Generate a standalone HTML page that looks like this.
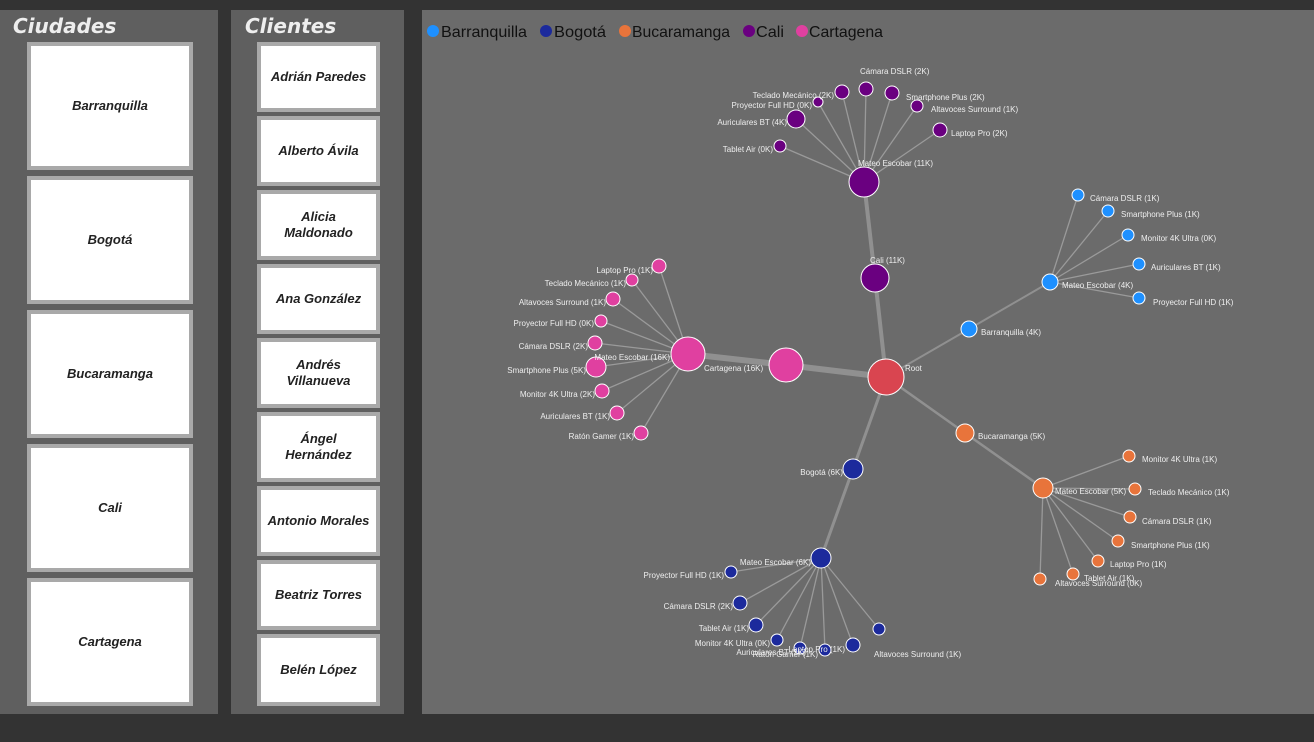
<!DOCTYPE html>
<html><head><meta charset="utf-8"><style>
body{margin:0;width:1314px;height:742px;background:#333;position:relative;overflow:hidden;font-family:"Liberation Sans",sans-serif}
.p{position:absolute;top:10px;height:704px}
.t{position:absolute;top:14px;font-size:20px;font-weight:bold;font-style:italic;color:#eee;font-family:"DejaVu Sans",sans-serif}
.c{position:absolute;background:#fff;border:4px solid #a9a9a9;box-sizing:border-box;display:flex;align-items:center;justify-content:center;text-align:center;font-size:13px;font-weight:bold;font-style:italic;color:#222;line-height:16px}
</style></head><body>
<div class="p" style="left:0;width:218px;background:#5f5f5f"></div>
<div class="p" style="left:231px;width:173px;background:#5f5f5f"></div>
<div class="p" style="left:422px;width:892px;background:#6b6b6b"></div>
<div class="t" style="left:13px">Ciudades</div>
<div class="t" style="left:245px">Clientes</div>
<div class="c" style="left:27px;top:42px;width:166px;height:128px">Barranquilla</div>
<div class="c" style="left:27px;top:176px;width:166px;height:128px">Bogotá</div>
<div class="c" style="left:27px;top:310px;width:166px;height:128px">Bucaramanga</div>
<div class="c" style="left:27px;top:444px;width:166px;height:128px">Cali</div>
<div class="c" style="left:27px;top:578px;width:166px;height:128px">Cartagena</div>
<div class="c" style="left:257px;top:42px;width:123px;height:70px">Adrián Paredes</div>
<div class="c" style="left:257px;top:116px;width:123px;height:70px">Alberto Ávila</div>
<div class="c" style="left:257px;top:190px;width:123px;height:70px">Alicia<br>Maldonado</div>
<div class="c" style="left:257px;top:264px;width:123px;height:70px">Ana González</div>
<div class="c" style="left:257px;top:338px;width:123px;height:70px">Andrés<br>Villanueva</div>
<div class="c" style="left:257px;top:412px;width:123px;height:70px">Ángel<br>Hernández</div>
<div class="c" style="left:257px;top:486px;width:123px;height:70px">Antonio Morales</div>
<div class="c" style="left:257px;top:560px;width:123px;height:70px">Beatriz Torres</div>
<div class="c" style="left:257px;top:634px;width:123px;height:72px">Belén López</div>
<svg width="1314" height="742" style="position:absolute;left:0;top:0" font-family="Liberation Sans, sans-serif">
<g font-size="16" fill="#111">
<circle cx="433" cy="31" r="6" fill="#1e90ff"/><text x="441" y="37" textLength="86" lengthAdjust="spacingAndGlyphs">Barranquilla</text>
<circle cx="546" cy="31" r="6" fill="#1c2a9c"/><text x="554" y="37" textLength="52" lengthAdjust="spacingAndGlyphs">Bogotá</text>
<circle cx="625" cy="31" r="6" fill="#e8743b"/><text x="632" y="37" textLength="98" lengthAdjust="spacingAndGlyphs">Bucaramanga</text>
<circle cx="749" cy="31" r="6" fill="#6a0080"/><text x="756" y="37" textLength="28" lengthAdjust="spacingAndGlyphs">Cali</text>
<circle cx="802" cy="31" r="6" fill="#e040a0"/><text x="809" y="37" textLength="74" lengthAdjust="spacingAndGlyphs">Cartagena</text>
</g>
<g stroke="#9a9a9a" stroke-opacity="0.8">
<line x1="886" y1="377" x2="875" y2="278" stroke-width="4"/>
<line x1="875" y1="278" x2="864" y2="182" stroke-width="4"/>
<line x1="886" y1="377" x2="786" y2="365" stroke-width="6"/>
<line x1="786" y1="365" x2="688" y2="354" stroke-width="6"/>
<line x1="886" y1="377" x2="969" y2="329" stroke-width="2"/>
<line x1="969" y1="329" x2="1050" y2="282" stroke-width="2"/>
<line x1="886" y1="377" x2="965" y2="433" stroke-width="2.5"/>
<line x1="965" y1="433" x2="1043" y2="488" stroke-width="2.5"/>
<line x1="886" y1="377" x2="853" y2="469" stroke-width="3"/>
<line x1="853" y1="469" x2="821" y2="558" stroke-width="3"/>
</g>
<g stroke="#9a9a9a" stroke-width="1.3">
<path d="M864 182L780 146M864 182L796 119M864 182L818 102M864 182L842 92M864 182L866 89M864 182L892 93M864 182L917 106M864 182L940 130"/>
<path d="M1050 282L1078 195M1050 282L1108 211M1050 282L1128 235M1050 282L1139 264M1050 282L1139 298"/>
<path d="M1043 488L1129 456M1043 488L1135 489M1043 488L1130 517M1043 488L1118 541M1043 488L1098 561M1043 488L1073 574M1043 488L1040 579"/>
<path d="M821 558L731 572M821 558L740 603M821 558L756 625M821 558L777 640M821 558L800 648M821 558L825 650M821 558L853 645M821 558L879 629"/>
<path d="M688 354L659 266M688 354L632 280M688 354L613 299M688 354L601 321M688 354L595 343M688 354L596 367M688 354L602 391M688 354L617 413M688 354L641 433"/>
</g>
<g stroke="#fff" stroke-width="1">
<circle cx="886" cy="377" r="18" fill="#d94550"/>
<g fill="#6a0080"><circle cx="875" cy="278" r="14"/><circle cx="864" cy="182" r="15"/>
<circle cx="780" cy="146" r="6"/><circle cx="796" cy="119" r="9"/><circle cx="818" cy="102" r="5"/><circle cx="842" cy="92" r="7"/><circle cx="866" cy="89" r="7"/><circle cx="892" cy="93" r="7"/><circle cx="917" cy="106" r="6"/><circle cx="940" cy="130" r="7"/></g>
<g fill="#1e90ff"><circle cx="969" cy="329" r="8"/><circle cx="1050" cy="282" r="8"/>
<circle cx="1078" cy="195" r="6"/><circle cx="1108" cy="211" r="6"/><circle cx="1128" cy="235" r="6"/><circle cx="1139" cy="264" r="6"/><circle cx="1139" cy="298" r="6"/></g>
<g fill="#e8743b"><circle cx="965" cy="433" r="9"/><circle cx="1043" cy="488" r="10"/>
<circle cx="1129" cy="456" r="6"/><circle cx="1135" cy="489" r="6"/><circle cx="1130" cy="517" r="6"/><circle cx="1118" cy="541" r="6"/><circle cx="1098" cy="561" r="6"/><circle cx="1073" cy="574" r="6"/><circle cx="1040" cy="579" r="6"/></g>
<g fill="#1c2a9c"><circle cx="853" cy="469" r="10"/><circle cx="821" cy="558" r="10"/>
<circle cx="731" cy="572" r="6"/><circle cx="740" cy="603" r="7"/><circle cx="756" cy="625" r="7"/><circle cx="777" cy="640" r="6"/><circle cx="800" cy="648" r="6"/><circle cx="825" cy="650" r="6"/><circle cx="853" cy="645" r="7"/><circle cx="879" cy="629" r="6"/></g>
<g fill="#e040a0"><circle cx="786" cy="365" r="17"/><circle cx="688" cy="354" r="17"/>
<circle cx="659" cy="266" r="7"/><circle cx="632" cy="280" r="6"/><circle cx="613" cy="299" r="7"/><circle cx="601" cy="321" r="6"/><circle cx="595" cy="343" r="7"/><circle cx="596" cy="367" r="10"/><circle cx="602" cy="391" r="7"/><circle cx="617" cy="413" r="7"/><circle cx="641" cy="433" r="7"/></g>
</g>
<g font-size="8" fill="#eee">
<text x="905" y="371">Root</text>
<text x="870" y="263">Cali (11K)</text>
<text x="858" y="166">Mateo Escobar (11K)</text>
<g text-anchor="end"><text x="773" y="152">Tablet Air (0K)</text><text x="787" y="125">Auriculares BT (4K)</text><text x="812" y="108">Proyector Full HD (0K)</text><text x="834" y="98">Teclado Mecánico (2K)</text></g>
<text x="860" y="74">Cámara DSLR (2K)</text><text x="906" y="100">Smartphone Plus (2K)</text><text x="931" y="112">Altavoces Surround (1K)</text><text x="951" y="136">Laptop Pro (2K)</text>
<text x="981" y="335">Barranquilla (4K)</text><text x="1062" y="288">Mateo Escobar (4K)</text>
<text x="1090" y="201">Cámara DSLR (1K)</text><text x="1121" y="217">Smartphone Plus (1K)</text><text x="1141" y="241">Monitor 4K Ultra (0K)</text><text x="1151" y="270">Auriculares BT (1K)</text><text x="1153" y="305">Proyector Full HD (1K)</text>
<text x="978" y="439">Bucaramanga (5K)</text><text x="1055" y="494">Mateo Escobar (5K)</text>
<text x="1142" y="462">Monitor 4K Ultra (1K)</text><text x="1148" y="495">Teclado Mecánico (1K)</text><text x="1142" y="524">Cámara DSLR (1K)</text><text x="1131" y="548">Smartphone Plus (1K)</text><text x="1110" y="567">Laptop Pro (1K)</text><text x="1084" y="581">Tablet Air (1K)</text><text x="1055" y="586">Altavoces Surround (0K)</text>
<g text-anchor="end"><text x="843" y="475">Bogotá (6K)</text><text x="811" y="565">Mateo Escobar (6K)</text>
<text x="724" y="578">Proyector Full HD (1K)</text><text x="733" y="609">Cámara DSLR (2K)</text><text x="749" y="631">Tablet Air (1K)</text><text x="770" y="646">Monitor 4K Ultra (0K)</text><text x="818" y="657">Ratón Gamer (1K)</text><text x="806" y="655">Auriculares BT (1K)</text><text x="845" y="652">Laptop Pro (1K)</text></g>
<text x="874" y="657">Altavoces Surround (1K)</text>
<text x="704" y="371">Cartagena (16K)</text>
<g text-anchor="end"><text x="670" y="360">Mateo Escobar (16K)</text>
<text x="653" y="273">Laptop Pro (1K)</text><text x="626" y="286">Teclado Mecánico (1K)</text><text x="606" y="305">Altavoces Surround (1K)</text><text x="594" y="326">Proyector Full HD (0K)</text><text x="588" y="349">Cámara DSLR (2K)</text><text x="586" y="373">Smartphone Plus (5K)</text><text x="595" y="397">Monitor 4K Ultra (2K)</text><text x="610" y="419">Auriculares BT (1K)</text><text x="634" y="439">Ratón Gamer (1K)</text></g>
</g>
</svg>
</body></html>
